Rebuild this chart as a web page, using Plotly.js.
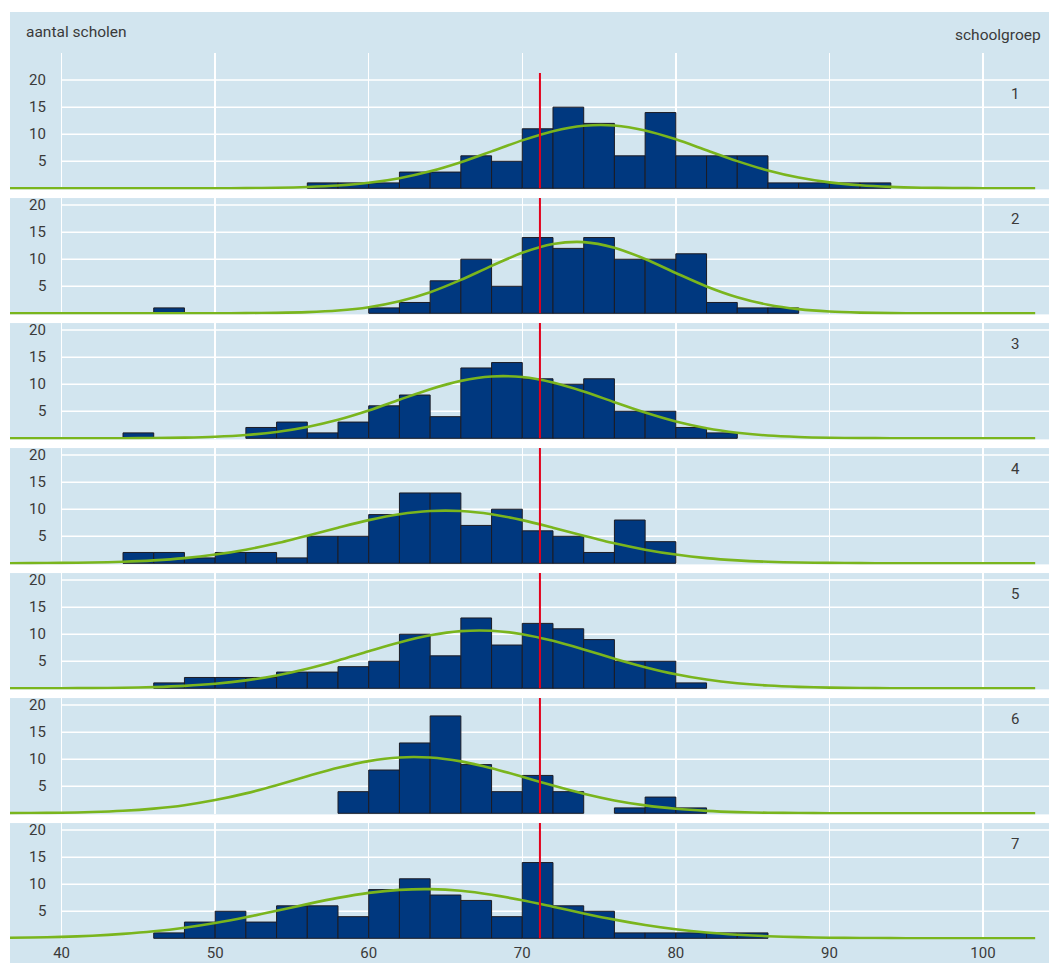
<!DOCTYPE html>
<html><head><meta charset="utf-8">
<script src="https://cdn.plot.ly/plotly-3.0.1.min.js"></script>
<style>html,body{margin:0;padding:0;background:#fff;} #chart{width:1049px;height:963px;}</style>
</head><body><div id="chart"></div>
<script>
// ---- data ----
const binStarts = [44,46,48,50,52,54,56,58,60,62,64,66,68,70,72,74,76,78,80,82,84,86,88,90,92];
const groups = ['1','2','3','4','5','6','7'];
const counts1 = [0,0,0,0,0,0,1,1,1,3,3,6,5,11,15,12,6,14,6,6,6,1,1,1,1];
const counts2 = [0,1,0,0,0,0,0,0,1,2,6,10,5,14,12,14,10,10,11,2,1,1,0,0,0];
const counts3 = [1,0,0,0,2,3,1,3,6,8,4,13,14,11,10,11,5,5,2,1,0,0,0,0,0];
const counts4 = [2,2,1,2,2,1,5,5,9,13,13,7,10,6,5,2,8,4,0,0,0,0,0,0,0];
const counts5 = [0,1,2,2,2,3,3,4,5,10,6,13,8,12,11,9,5,5,1,0,0,0,0,0,0];
const counts6 = [0,0,0,0,0,0,0,4,8,13,18,9,4,7,4,0,1,3,1,0,0,0,0,0,0];
const counts7 = [0,1,3,5,3,6,6,4,9,11,8,7,4,14,6,5,1,1,1,1,1,0,0,0,0];

const curveX = [36.6,38,40,42,44,46,48,50,52,54,56,58,60,62,64,66,68,70,72,74,76,78,80,82,84,86,88,90,92,94,96,98,100,102,103.4];
const fit1 = [0,0,0,0,0,0,0,0.01,0.04,0.10,0.24,0.51,1.02,1.87,3.14,4.83,6.83,8.86,10.56,11.55,11.60,10.69,9.05,7.03,5.02,3.29,1.98,1.09,0.55,0.26,0.11,0.04,0.02,0.01,0];
const fit2 = [0,0,0,0,0,0,0,0.01,0.03,0.08,0.21,0.51,1.12,2.21,3.89,6.17,8.77,11.18,12.80,13.16,12.13,10.04,7.45,4.97,2.97,1.59,0.77,0.33,0.13,0.04,0.01,0,0,0,0];
const fit3 = [0,0,0,0.01,0.02,0.05,0.13,0.29,0.61,1.18,2.10,3.43,5.15,7.13,9.07,10.61,11.43,11.32,10.32,8.66,6.68,4.75,3.10,1.86,1.03,0.52,0.25,0.11,0.04,0.02,0.01,0,0,0,0];
const fit4 = [0.02,0.03,0.07,0.14,0.28,0.54,0.96,1.61,2.52,3.70,5.10,6.58,7.98,9.07,9.67,9.67,9.07,7.98,6.58,5.10,3.70,2.52,1.61,0.96,0.54,0.28,0.14,0.07,0.03,0.01,0,0,0,0,0];
const fit5 = [0,0.01,0.02,0.04,0.10,0.22,0.44,0.83,1.46,2.38,3.62,5.15,6.84,8.47,9.79,10.57,10.64,10.00,8.77,7.18,5.48,3.91,2.60,1.61,0.94,0.51,0.26,0.12,0.05,0.02,0.01,0,0,0,0];
const fit6 = [0.03,0.05,0.11,0.23,0.46,0.87,1.50,2.44,3.68,5.20,6.85,8.41,9.65,10.32,10.30,9.60,8.34,6.76,5.12,3.61,2.38,1.46,0.84,0.45,0.22,0.10,0.05,0.02,0.01,0,0,0,0,0,0];
const fit7 = [0.09,0.15,0.27,0.48,0.81,1.29,1.96,2.83,3.89,5.09,6.32,7.47,8.39,8.95,9.09,8.78,8.05,7.03,5.83,4.60,3.45,2.46,1.67,1.07,0.66,0.38,0.21,0.11,0.06,0.03,0.01,0,0,0,0];

const referenceScore = 71.15;
const xTicks = [40,50,60,70,80,90,100];
const yTicks = [5,10,15,20];
const yTitle = 'aantal scholen';
const groupTitle = 'schoolgroep';

const counts = [counts1,counts2,counts3,counts4,counts5,counts6,counts7];
const fits = [fit1,fit2,fit3,fit4,fit5,fit6,fit7];

// ---- layout geometry ----
const W = 1049, H = 963, ML = 10, MT = 12;
const PW = W - ML, PH = H - MT;
const px2x = p => (p - ML) / PW;
const px2y = p => (H - p) / PH;
const baselines = [188.3,313.3,438.3,563.3,688.3,813.3,938.3];
const topVals = [25,21.3,21.3,21.3,21.3,21.3,21.3];
const S = 5.41, YMIN = -0.2;
const XR = [36.64, 104.3];
const BG = '#d2e5ef';
const FONT = 'Roboto, "Open Sans", sans-serif';
const TXT = '#3a3a3a';

const data = [];
const layout = {
  width: W, height: H,
  margin: {l: ML, r: 0, t: MT, b: 0},
  paper_bgcolor: '#ffffff', plot_bgcolor: BG,
  showlegend: false, bargap: 0,
  font: {family: FONT, size: 15, color: TXT},
  xaxis: {
    range: XR, tickvals: xTicks, ticktext: xTicks.map(String),
    showgrid: true, gridcolor: '#ffffff', gridwidth: 1.5,
    zeroline: false, showline: false, ticks: '', anchor: 'y7',
    tickfont: {family: FONT, size: 15, color: TXT}, ticklabelstandoff: 3,
    fixedrange: true
  },
  shapes: [], annotations: []
};

groups.forEach((g, i) => {
  const ya = i === 0 ? 'y' : 'y' + (i + 1);
  const yk = i === 0 ? 'yaxis' : 'yaxis' + (i + 1);
  const b = baselines[i];
  layout[yk] = {
    domain: [px2y(b - YMIN * S), px2y(b - topVals[i] * S)],
    range: [YMIN, topVals[i]],
    showgrid: false, zeroline: false, showticklabels: false, showline: false,
    ticks: '', anchor: 'x', fixedrange: true
  };
  data.push({
    type: 'bar', x: binStarts, y: counts[i].map(v => v === 0 ? null : v), width: 2, offset: 0,
    xaxis: 'x', yaxis: ya,
    marker: {color: '#00387f', line: {color: '#1c1c24', width: 1}},
    hoverinfo: 'skip'
  });
  data.push({
    type: 'scatter', mode: 'lines', x: curveX, y: fits[i],
    xaxis: 'x', yaxis: ya,
    line: {color: '#7ab51d', width: 2.6, shape: 'spline', smoothing: 0.8},
    hoverinfo: 'skip'
  });
  yTicks.forEach(t => {
    layout.shapes.push({type: 'line', xref: 'x', yref: ya, x0: 40, x1: XR[1], y0: t, y1: t,
      line: {color: '#ffffff', width: 1.5}, layer: 'between'});
    layout.annotations.push({xref: 'paper', yref: ya, x: px2x(48), y: t, text: String(t),
      xanchor: 'right', yanchor: 'middle', showarrow: false,
      font: {family: FONT, size: 15, color: TXT}});
  });
  layout.shapes.push({type: 'line', xref: 'x', yref: ya, x0: referenceScore, x1: referenceScore,
    y0: 0, y1: 21.3, line: {color: '#e3001b', width: 2}, layer: 'above'});
  layout.annotations.push({xref: 'paper', yref: 'paper', x: px2x(1015), y: px2y(b - 94), text: g,
    xanchor: 'center', yanchor: 'middle', showarrow: false,
    font: {family: FONT, size: 15, color: TXT}});
});

// background extensions above panel 1 and below panel 7
layout.shapes.push({type: 'rect', xref: 'paper', yref: 'paper', x0: 0, x1: 1,
  y0: px2y(baselines[0] - topVals[0] * S) - 0.001, y1: 1, fillcolor: BG, line: {width: 0}, layer: 'below'});
layout.shapes.push({type: 'rect', xref: 'paper', yref: 'paper', x0: 0, x1: 1,
  y0: 0, y1: px2y(baselines[6] - YMIN * S) + 0.001, fillcolor: BG, line: {width: 0}, layer: 'below'});

layout.annotations.push({xref: 'paper', yref: 'paper', x: px2x(24), y: px2y(32.5), text: yTitle,
  xanchor: 'left', yanchor: 'middle', showarrow: false, font: {family: FONT, size: 15.5, color: TXT}});
layout.annotations.push({xref: 'paper', yref: 'paper', x: px2x(1043), y: px2y(35), text: groupTitle,
  xanchor: 'right', yanchor: 'middle', showarrow: false, font: {family: FONT, size: 15.5, color: TXT}});

Plotly.newPlot('chart', data, layout, {staticPlot: true, displayModeBar: false});
</script></body></html>
